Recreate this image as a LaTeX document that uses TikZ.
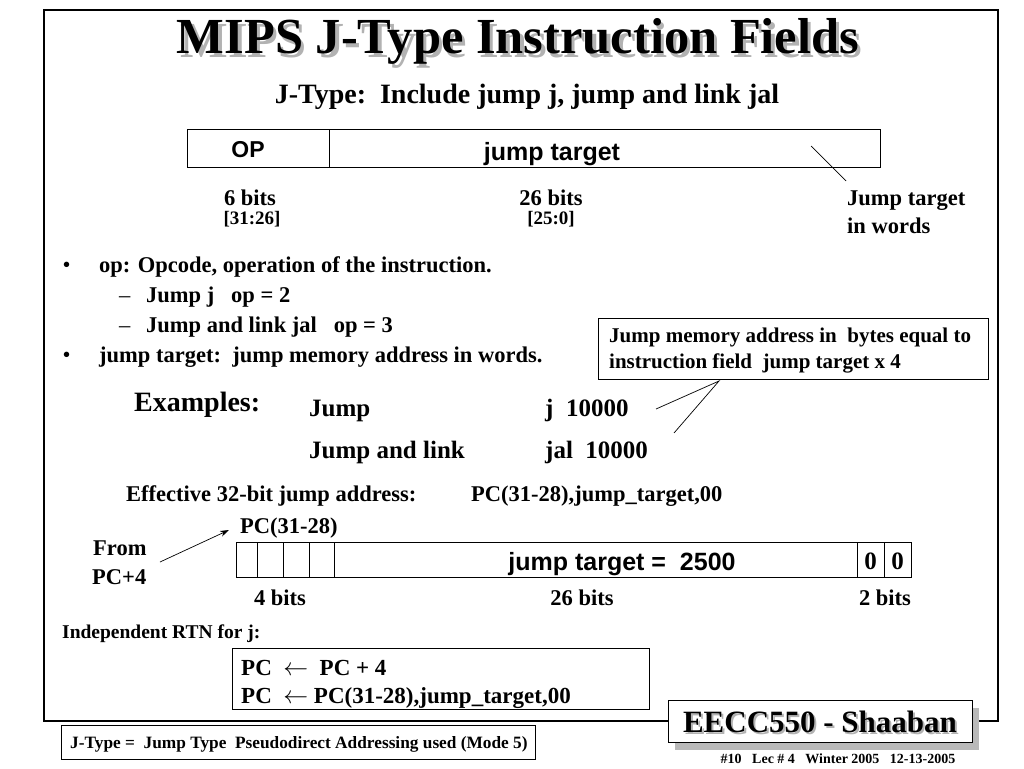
\documentclass[tikz,border=0pt]{standalone}
\usepackage{fontspec}
\setmainfont{Liberation Serif}
\newfontfamily\arialf{Liberation Sans}
\usetikzlibrary{arrows.meta}
\newcommand\fsz[1]{\fontsize{#1}{#1}\selectfont}
\newcommand\shtext[2]{\makebox[0pt][l]{\kern #1\raisebox{-#1}{\color{gray!60}#2}}#2}
\begin{document}
\begin{tikzpicture}[x=1pt,y=-1pt,
  tl/.style={anchor=base west, inner sep=0pt, font=\bfseries\fsz{22.5}},
  tc/.style={anchor=base, inner sep=0pt, font=\bfseries\fsz{22.5}},
  sans/.style={anchor=base, inner sep=0pt, font=\arialf\bfseries\fsz{25}},
  frame/.style={draw=black, line width=0.9pt},
  thin/.style={draw=black, line width=0.7pt}]
\useasboundingbox (0,0) rectangle (1024,768);
\fill[white] (0,0) rectangle (1024,768);
% main frame
\draw[line width=2.6pt] (44,10) rectangle (998,721);
% title
\node[anchor=base, inner sep=0pt, font=\bfseries\fsz{50.5}] (title) at (518,54) {\shtext{3.5pt}{MIPS J-Type Instruction Fields}};
\node[tc, font=\bfseries\fsz{28}] (sub) at (527,103) {J-Type:\ \ Include jump j, jump and link jal};
% top instruction format
\draw[frame] (187,129) rectangle (880,167);
\draw[frame] (329,129) -- (329,167);
\node[sans, font=\arialf\bfseries\fsz{23}] (op) at (248,157) {OP};
\node[sans] (jt) at (552,160) {jump target};
\coordinate (jtl1) at (811,146);
\coordinate (jtl2) at (846,181);
\draw[thin] (jtl1) -- (jtl2);
\node[tc] (six) at (250,205) {6 bits};
\node[tc, font=\bfseries\fsz{19}] (sixr) at (252,224) {[31:26]};
\node[tc] (twsix) at (551,205) {26 bits};
\node[tc, font=\bfseries\fsz{19}] (twsixr) at (551,224) {[25:0]};
\node[tl] (jtw1) at (847,205) {Jump target};
\node[tl] (jtw2) at (847,233) {in words};
% bullets
\node[tl, font=\bfseries\fsz{20}] (b1) at (63,271) {•};
\node[tl] (l1) at (99,272) {op: Opcode, operation of the instruction.};
\node[tl, font=\fsz{22.5}] (d1) at (119,302) {–};
\node[tl] (l2) at (146,302) {Jump j\ \ \ op = 2};
\node[tl, font=\fsz{22.5}] (d2) at (119,332) {–};
\node[tl] (l3) at (146,332) {Jump and link jal\ \ \ op = 3};
\node[tl, font=\bfseries\fsz{20}] (b2) at (63,361) {•};
\node[tl] (l4) at (99,362) {jump target:\ \ jump memory address in words.};
% callout
\draw[thin] (598,318) rectangle (988,379);
\node[tl, font=\bfseries\fsz{21}] (c1) at (609,342) {Jump memory address in\ \ bytes equal to};
\node[tl, font=\bfseries\fsz{21}] (c2) at (609,368) {instruction field\ \ jump target x 4};
\coordinate (capex) at (719,381);
\coordinate (cend1) at (656,409);
\coordinate (cend2) at (674,433);
\draw[thin] (cend1) -- (capex) -- (cend2);
% examples
\node[tl, font=\bfseries\fsz{28}] (ex) at (134,411) {Examples:};
\node[tl, font=\bfseries\fsz{25}] (e1) at (309,416) {Jump};
\node[tl, font=\bfseries\fsz{25}] (e1b) at (545,416) {j\ \ 10000};
\node[tl, font=\bfseries\fsz{25}] (e2) at (309,458) {Jump and link};
\node[tl, font=\bfseries\fsz{25}] (e2b) at (545,458) {jal\ \ 10000};
\node[tl] (eff) at (126,501) {Effective 32-bit jump address:};
\node[tl] (effb) at (471,501) {PC(31-28),jump\_target,00};
% lower format
\node[tl] (pc) at (240,533) {PC(31-28)};
\node[tl] (from) at (93,555) {From};
\node[tl] (pc4) at (92,584) {PC+4};
\coordinate (arrs) at (160,562);
\coordinate (arre) at (229,530);
\draw[thin, -{Stealth[length=9pt,width=6pt]}] (arrs) -- (arre);
\draw[frame] (236,542) rectangle (911,577);
\foreach \xx in {257,283,309,334,857,884} \draw[frame] (\xx,542) -- (\xx,577);
\node[sans] (jt2) at (622,570) {jump target =\ \ 2500};
\node[tc, font=\bfseries\fsz{25}] (z1) at (870.5,569) {0};
\node[tc, font=\bfseries\fsz{25}] (z2) at (897.5,569) {0};
\node[tc] (fb) at (280,605) {4 bits};
\node[tc] (tb) at (582,605) {26 bits};
\node[tc] (tw) at (885,605) {2 bits};
% RTN
\node[tl, font=\bfseries\fsz{19.5}] (rtn) at (62,638) {Independent RTN for j:};
\draw[thin] (232,648) rectangle (649,709);
\node[tl, font=\bfseries\fsz{23}] (r1) at (241,675) {PC\ \ $\leftarrow$\ \ PC + 4};
\node[tl, font=\bfseries\fsz{23}] (r2) at (241,703) {PC\ \ $\leftarrow$ PC(31-28),jump\_target,00};
% bottom-left note
\draw[thin, fill=white] (61,725) rectangle (535,759);
\node[tl, font=\bfseries\fsz{17.3}] (note) at (70,748) {J-Type =\ \ Jump Type\ \ Pseudodirect Addressing used (Mode 5)};
% course label
\fill[gray!55] (675,708) rectangle (979,750);
\draw[thin, fill=white] (668,700) rectangle (972,742);
\node[anchor=base, inner sep=0pt, font=\bfseries\fsz{31}] (eecc) at (820,732) {\shtext{2pt}{EECC550 - Shaaban}};
\node[anchor=base, inner sep=0pt, font=\bfseries\fsz{14}] (foot) at (838,763) {\#10\ \ \ Lec \# 4\ \ \ Winter 2005\ \ \ 12-13-2005};
\end{tikzpicture}
\end{document}
